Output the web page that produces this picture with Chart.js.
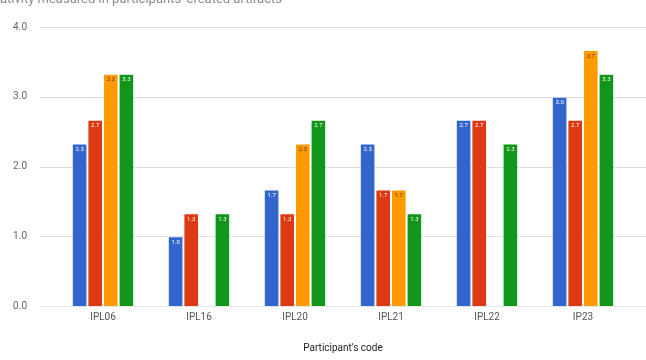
<!DOCTYPE html>
<html>
<head>
<meta charset="utf-8">
<script src="https://cdn.jsdelivr.net/npm/chart.js@4/dist/chart.umd.min.js"></script>
<style>
  html, body { margin: 0; padding: 0; background: #fff; overflow: hidden; }
</style>
</head>
<body>
<canvas id="creativityChart" width="646" height="360"></canvas>
<script>
// categorie (codici partecipanti)
const participants = ['IPL06', 'IPL16', 'IPL20', 'IPL21', 'IPL22', 'IP23'];

// valori delle quattro serie
const series1 = [2.33, 1.0, 1.67, 2.33, 2.67, 3.0];
const series2 = [2.67, 1.33, 1.33, 1.67, 2.67, 2.67];
const series3 = [3.33, null, 2.33, 1.67, null, 3.67];
const series4 = [3.33, 1.33, 2.67, 1.33, 2.33, 3.33];

const yTicks = [0, 1, 2, 3, 4];

const titleText = "Creativity measured in participants' created artifacts";

// titolo tagliato in alto, come nella figura
const titlePlugin = {
    id: 'cutTitle',
    afterDraw(chart) {
        const ctx = chart.ctx;
        ctx.save();
        ctx.font = '13px Roboto';
        ctx.fillStyle = '#8a8a8a';
        ctx.textBaseline = 'alphabetic';
        const shift = ctx.measureText('Cre').width;
        ctx.fillText(titleText, -shift, 3);
        ctx.restore();
    }
};

// linee della griglia più larghe dell'area del grafico
const gridPlugin = {
    id: 'wideGrid',
    beforeDatasetsDraw(chart) {
        const ctx = chart.ctx;
        const y = chart.scales.y;
        ctx.save();
        yTicks.forEach(function (t) {
            const py = Math.round(y.getPixelForValue(t)) + 0.5;
            ctx.strokeStyle = t === 0 ? '#e6e6e6' : '#dedede';
            ctx.lineWidth = 1;
            ctx.beginPath();
            ctx.moveTo(40, py);
            ctx.lineTo(chart.width, py);
            ctx.stroke();
        });
        ctx.restore();
    }
};

// etichette dei valori dentro le barre
const labelPlugin = {
    id: 'barLabels',
    afterDatasetsDraw(chart) {
        const ctx = chart.ctx;
        ctx.save();
        ctx.font = '6px Roboto';
        ctx.textAlign = 'center';
        ctx.textBaseline = 'middle';
        chart.data.datasets.forEach(function (ds, i) {
            chart.getDatasetMeta(i).data.forEach(function (bar, j) {
                const v = ds.data[j];
                if (v === null) return;
                ctx.fillStyle = i === 2 ? '#5a3a00' : '#ffffff';
                ctx.fillText(v.toFixed(1), bar.x, bar.y + 6);
            });
        });
        ctx.restore();
    }
};

const colors = ['#3366cc', '#dc3912', '#ff9900', '#109618'];
const allSeries = [series1, series2, series3, series4];

let ctx = document.getElementById('creativityChart').getContext('2d');

let myBarChart = new Chart(ctx, {
    type: 'bar',
    data: {
        labels: participants,
        datasets: allSeries.map(function (s, i) {
            return {
                label: 'Serie ' + (i + 1),
                data: s,
                backgroundColor: colors[i],
                borderColor: 'rgba(255,255,255,0.45)',
                borderWidth: 1,
                categoryPercentage: 0.65,
                barPercentage: 1.0
            };
        })
    },
    options: {
        responsive: false,
        animation: false,
        layout: {
            padding: { top: 27, right: 15, left: 0, bottom: 6 }
        },
        plugins: {
            legend: { display: false },
            tooltip: { enabled: false }
        },
        scales: {
            x: {
                grid: { display: false },
                border: { display: false },
                ticks: {
                    color: '#555',
                    font: { family: 'Roboto', size: 10 },
                    padding: -3
                },
                title: {
                    display: true,
                    text: "Participant's code",
                    color: '#222',
                    font: { family: 'Roboto', size: 10 },
                    padding: { top: 22, bottom: 0 }
                }
            },
            y: {
                min: 0,
                max: 4,
                afterBuildTicks(scale) {
                    scale.ticks = yTicks.map(function (v) { return { value: v }; });
                },
                grid: { display: false },
                border: { display: false },
                ticks: {
                    color: '#666',
                    font: { family: 'Roboto', size: 10 },
                    padding: 20,
                    callback: function (v) { return v.toFixed(1); }
                },
                afterFit(scale) { scale.width = 55; }
            }
        }
    },
    plugins: [gridPlugin, labelPlugin, titlePlugin]
});
</script>
</body>
</html>
